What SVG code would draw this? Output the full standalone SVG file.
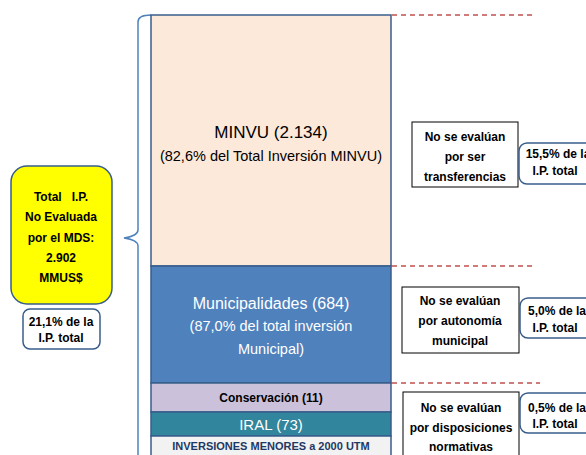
<svg xmlns="http://www.w3.org/2000/svg" width="586" height="455" viewBox="0 0 586 455">
<style>
text{font-family:"Liberation Sans",Arial,sans-serif;text-anchor:middle;dominant-baseline:central;white-space:pre}
.b{font-weight:bold;font-size:12px;fill:#000}
.box{fill:#fff;stroke:#000;stroke-width:1}
.rb{fill:#fff;stroke:#385D8A;stroke-width:1.5}
.dash{stroke:#C0504D;stroke-width:1.3;stroke-dasharray:5,4;fill:none}
.band{stroke:#385D8A;stroke-width:1.5}
</style>
<g id="connectors">
<line class="dash" x1="392" y1="15" x2="536" y2="15"/>
<line class="dash" x1="392" y1="266" x2="536" y2="266"/>
<line class="dash" x1="392" y1="383" x2="540" y2="383"/>
<path d="M151,15 Q138,15 138,22 L138,230 Q138,236 124,238 Q138,240 138,246 L138,455" fill="none" stroke="#4F81BD" stroke-width="1.5"/>
</g>
<g id="minvu">
<rect class="band" x="151" y="15" width="240" height="251" fill="#FDE9D9"/>
<text x="271" y="132" font-size="17" fill="#000">MINVU (2.134)</text>
<text x="271" y="156" font-size="14.5" fill="#000">(82,6% del Total Inversión MINVU)</text>
</g>
<g id="municipalidades">
<rect class="band" x="151" y="266" width="240" height="117" fill="#4F81BD"/>
<text x="271" y="303" font-size="16" fill="#fff">Municipalidades (684)</text>
<text x="271" y="326" font-size="14.5" fill="#fff">(87,0% del total inversión</text>
<text x="271" y="349" font-size="14.5" fill="#fff">Municipal)</text>
</g>
<g id="conservacion">
<rect class="band" x="151" y="383" width="240" height="29" fill="#CCC1DA"/>
<text x="271" y="398" class="b" font-size="11">Conservación (11)</text>
</g>
<g id="iral">
<rect class="band" x="151" y="412" width="240" height="24" fill="#31859C"/>
<text x="271" y="424" font-size="15" fill="#fff">IRAL (73)</text>
</g>
<g id="inversiones">
<rect class="band" x="151" y="436" width="240" height="25" fill="#F2F2F2"/>
<text x="271" y="446" font-size="11" font-weight="bold" fill="#1F3864">INVERSIONES MENORES a 2000 UTM</text>
</g>
<g id="total">
<rect x="11" y="166" width="101" height="138" rx="16" fill="#FFFF00" stroke="#385D8A" stroke-width="1.5"/>
<text class="b" x="61" y="197" xml:space="preserve">Total   I.P.</text>
<text class="b" x="61" y="217">No Evaluada</text>
<text class="b" x="61" y="238">por el MDS:</text>
<text class="b" x="61" y="258">2.902</text>
<text class="b" x="61" y="278">MMUS$</text>
</g>
<g id="pct-total">
<rect class="rb" x="23" y="309" width="77" height="40" rx="7"/>
<text class="b" x="61" y="322" font-size="10.5">21,1% de la</text>
<text class="b" x="61" y="338" font-size="10.5">I.P. total</text>
</g>
<g id="transferencias">
<rect class="box" x="412" y="122" width="106" height="65"/>
<text class="b" x="465" y="137">No se evalúan</text>
<text class="b" x="465" y="157">por ser</text>
<text class="b" x="465" y="177">transferencias</text>
</g>
<g id="pct-transf">
<rect class="rb" x="519" y="143" width="80" height="41" rx="8"/>
<text class="b" x="558" y="154" font-size="10.5">15,5% de la</text>
<text class="b" x="555" y="171" font-size="10.5">I.P. total</text>
</g>
<g id="autonomia">
<rect class="box" x="402" y="287" width="117" height="66"/>
<text class="b" x="460" y="301">No se evalúan</text>
<text class="b" x="460" y="321">por autonomía</text>
<text class="b" x="460" y="341">municipal</text>
</g>
<g id="pct-auto">
<rect class="rb" x="520" y="298" width="80" height="40" rx="8"/>
<text class="b" x="557" y="311" font-size="10.5">5,0% de la</text>
<text class="b" x="555" y="328" font-size="10.5">I.P. total</text>
</g>
<g id="normativas">
<rect class="box" x="403" y="392" width="116" height="70"/>
<text class="b" x="461" y="408">No se evalúan</text>
<text class="b" x="461" y="428">por disposiciones</text>
<text class="b" x="461" y="447">normativas</text>
</g>
<g id="pct-norm">
<rect class="rb" x="520" y="393" width="80" height="40" rx="8"/>
<text class="b" x="557" y="408" font-size="10.5">0,5% de la</text>
<text class="b" x="555" y="424" font-size="10.5">I.P. total</text>
</g>
</svg>
